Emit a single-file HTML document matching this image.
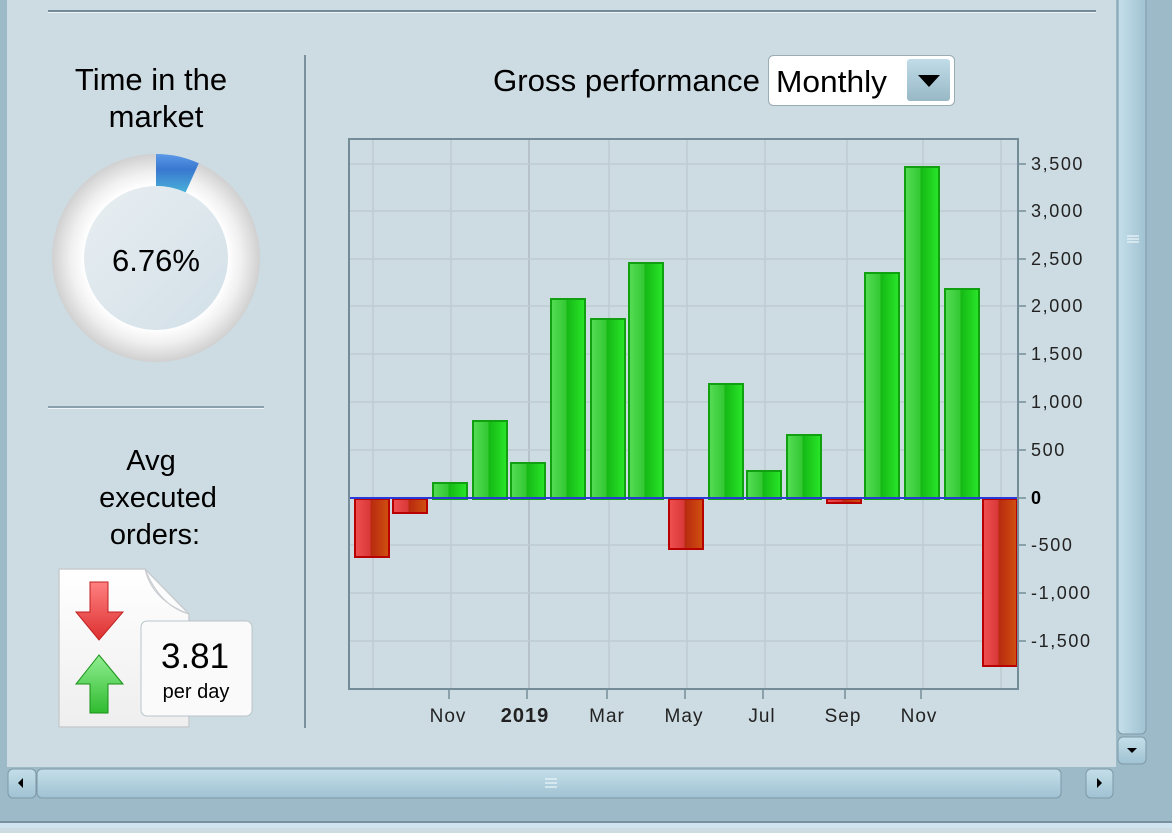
<!DOCTYPE html>
<html><head><meta charset="utf-8"><style>
body{margin:0;width:1172px;height:828px;overflow:hidden;background:#cddce3;font-family:"Liberation Sans",sans-serif}
</style></head><body>
<svg width="1172" height="828" viewBox="0 0 1172 828" xmlns="http://www.w3.org/2000/svg" font-family="Liberation Sans, sans-serif">
<defs>
<linearGradient id="g" x1="0" x2="1"><stop offset="0" stop-color="#55dd55"/><stop offset="0.45" stop-color="#33c833"/><stop offset="0.46" stop-color="#14b814"/><stop offset="1" stop-color="#2ae62a"/></linearGradient>
<linearGradient id="r" x1="0" x2="1"><stop offset="0" stop-color="#f05050"/><stop offset="0.45" stop-color="#d83838"/><stop offset="0.46" stop-color="#b82a10"/><stop offset="1" stop-color="#d05010"/></linearGradient>
<radialGradient id="ring" cx="0.5" cy="0.5" r="0.5"><stop offset="0.69" stop-color="#ffffff"/><stop offset="0.82" stop-color="#f0f0f0"/><stop offset="1" stop-color="#d0d0d0"/></radialGradient>
<linearGradient id="inner" x1="0" y1="0" x2="1" y2="1"><stop offset="0" stop-color="#e8eef2"/><stop offset="1" stop-color="#d2e0e7"/></linearGradient>
<linearGradient id="blue" x1="0" y1="0" x2="0" y2="1"><stop offset="0" stop-color="#5a9ae8"/><stop offset="0.4" stop-color="#3a78d0"/><stop offset="1" stop-color="#48b0d8"/></linearGradient>
<linearGradient id="sb" x1="0" y1="0" x2="0" y2="1"><stop offset="0" stop-color="#c4dfea"/><stop offset="1" stop-color="#a0c2d2"/></linearGradient>
<linearGradient id="sbv" x1="0" y1="0" x2="1" y2="0"><stop offset="0" stop-color="#c4dfea"/><stop offset="1" stop-color="#a0c2d2"/></linearGradient>
<linearGradient id="dd" x1="0" y1="0" x2="0" y2="1"><stop offset="0" stop-color="#c0dce8"/><stop offset="1" stop-color="#98b8c6"/></linearGradient>
<linearGradient id="doc" x1="0" y1="0" x2="0" y2="1"><stop offset="0" stop-color="#ffffff"/><stop offset="1" stop-color="#eeeeee"/></linearGradient>
<linearGradient id="ra" x1="0" y1="0" x2="0" y2="1"><stop offset="0" stop-color="#ff8080"/><stop offset="1" stop-color="#dd3030"/></linearGradient>
<linearGradient id="ga" x1="0" y1="0" x2="0" y2="1"><stop offset="0" stop-color="#90ee90"/><stop offset="1" stop-color="#30bb30"/></linearGradient>
</defs>
<!-- frame -->
<rect x="0" y="0" width="7" height="800" fill="#9dbac8"/>
<rect x="1116" y="0" width="56" height="800" fill="#9dbac8"/>
<rect x="0" y="800" width="1172" height="28" fill="#9dbac8"/>
<rect x="0" y="821" width="1172" height="2" fill="#7890a0"/>
<rect x="0" y="823" width="1172" height="5" fill="#cfe4ee"/>
<rect x="48" y="10" width="1048" height="2" fill="#748c98"/>
<rect x="48" y="12" width="1048" height="1" fill="#eef4f8"/>
<!-- left panel -->
<text x="151" y="90" font-size="31" text-anchor="middle">Time in the</text>
<text x="156" y="127" font-size="31" text-anchor="middle">market</text>
<circle cx="156" cy="258" r="104" fill="url(#ring)"/>
<path d="M156 154 A104 104 0 0 1 198.8 163.2 L185.6 192.4 A72 72 0 0 0 156 186 Z" fill="url(#blue)"/>
<circle cx="156" cy="258" r="72" fill="url(#inner)"/>
<text x="156" y="271" font-size="31" text-anchor="middle">6.76%</text>
<rect x="48" y="406" width="216" height="2" fill="#8aa0ac"/>
<rect x="48" y="408" width="216" height="1" fill="#eef4f8"/>
<text x="151" y="470" font-size="29" text-anchor="middle">Avg</text>
<text x="158" y="507" font-size="29" text-anchor="middle">executed</text>
<text x="155" y="544" font-size="29" text-anchor="middle">orders:</text>
<path d="M59 569 H145 L189 614 V727 H59 Z" fill="url(#doc)" stroke="#c8ccd0" stroke-width="1.5"/>
<path d="M145 569 Q152 600 189 614 Q160 606 145 569 Z" fill="#e4e8ea" stroke="#c8ccd0"/>
<path d="M90 582 H108 V612 H123 L99 640 L76 612 H90 Z" fill="url(#ra)" stroke="#c02020" stroke-width="1"/>
<path d="M99 655 L123 684 H108 V713 H90 V684 H76 Z" fill="url(#ga)" stroke="#189018" stroke-width="1"/>
<rect x="141" y="621" width="111" height="95" rx="6" fill="#fafafa" stroke="#b8c4ca"/>
<text x="195" y="668" font-size="35" text-anchor="middle">3.81</text>
<text x="196" y="698" font-size="20" text-anchor="middle">per day</text>
<rect x="304" y="55" width="2" height="673" fill="#7a909c"/>
<!-- header -->
<text x="493" y="91" font-size="31" textLength="267" lengthAdjust="spacingAndGlyphs">Gross performance</text>
<rect x="768.5" y="55.5" width="186" height="50" rx="5" fill="#fff" stroke="#9aacb4"/>
<text x="776" y="92" font-size="31" textLength="111" lengthAdjust="spacingAndGlyphs">Monthly</text>
<rect x="907" y="59" width="43" height="42" rx="3" fill="url(#dd)"/>
<path d="M918 75 H940 L929 87 Z" fill="#000"/>
<!-- plot -->
<g stroke="#bfcbd1" stroke-width="1.5">
<line x1="373" y1="139" x2="373" y2="689"/><line x1="451" y1="139" x2="451" y2="689"/>
<line x1="529" y1="139" x2="529" y2="689" stroke="#b6c2c8" stroke-width="2"/><line x1="609" y1="139" x2="609" y2="689"/>
<line x1="687" y1="139" x2="687" y2="689"/><line x1="765" y1="139" x2="765" y2="689"/>
<line x1="847" y1="139" x2="847" y2="689"/><line x1="923" y1="139" x2="923" y2="689"/>
<line x1="1001" y1="139" x2="1001" y2="689"/>
<line x1="350" y1="164" x2="1018" y2="164"/><line x1="350" y1="211" x2="1018" y2="211"/>
<line x1="350" y1="259" x2="1018" y2="259"/><line x1="350" y1="306" x2="1018" y2="306"/>
<line x1="350" y1="354" x2="1018" y2="354"/><line x1="350" y1="402" x2="1018" y2="402"/>
<line x1="350" y1="450" x2="1018" y2="450"/><line x1="350" y1="545" x2="1018" y2="545"/>
<line x1="350" y1="593" x2="1018" y2="593"/><line x1="350" y1="641" x2="1018" y2="641"/>
</g>
<g stroke-width="2">
<rect x="355" y="499" width="34" height="58" fill="url(#r)" stroke="#b80000"/>
<rect x="393" y="499" width="34" height="14" fill="url(#r)" stroke="#b80000"/>
<rect x="433" y="483" width="34" height="16" fill="url(#g)" stroke="#10a010"/>
<rect x="473" y="421" width="34" height="78" fill="url(#g)" stroke="#10a010"/>
<rect x="511" y="463" width="34" height="36" fill="url(#g)" stroke="#10a010"/>
<rect x="551" y="299" width="34" height="200" fill="url(#g)" stroke="#10a010"/>
<rect x="591" y="319" width="34" height="180" fill="url(#g)" stroke="#10a010"/>
<rect x="629" y="263" width="34" height="236" fill="url(#g)" stroke="#10a010"/>
<rect x="669" y="499" width="34" height="50" fill="url(#r)" stroke="#b80000"/>
<rect x="709" y="384" width="34" height="115" fill="url(#g)" stroke="#10a010"/>
<rect x="747" y="471" width="34" height="28" fill="url(#g)" stroke="#10a010"/>
<rect x="787" y="435" width="34" height="64" fill="url(#g)" stroke="#10a010"/>
<rect x="827" y="499" width="34" height="4" fill="url(#r)" stroke="#b80000"/>
<rect x="865" y="273" width="34" height="226" fill="url(#g)" stroke="#10a010"/>
<rect x="905" y="167" width="34" height="332" fill="url(#g)" stroke="#10a010"/>
<rect x="945" y="289" width="34" height="210" fill="url(#g)" stroke="#10a010"/>
<rect x="983" y="499" width="34" height="167" fill="url(#r)" stroke="#b80000"/>
</g>
<line x1="350" y1="498" x2="1018" y2="498" stroke="#2a3ad8" stroke-width="2"/>
<rect x="349" y="139" width="669" height="550" fill="none" stroke="#748c98" stroke-width="2"/>
<g stroke="#748c98" stroke-width="1.5">
<line x1="1018" y1="164" x2="1026" y2="164"/><line x1="1018" y1="211" x2="1026" y2="211"/>
<line x1="1018" y1="259" x2="1026" y2="259"/><line x1="1018" y1="306" x2="1026" y2="306"/>
<line x1="1018" y1="354" x2="1026" y2="354"/><line x1="1018" y1="402" x2="1026" y2="402"/>
<line x1="1018" y1="450" x2="1026" y2="450"/><line x1="1018" y1="498" x2="1026" y2="498"/>
<line x1="1018" y1="545" x2="1026" y2="545"/><line x1="1018" y1="593" x2="1026" y2="593"/>
<line x1="1018" y1="641" x2="1026" y2="641"/>
<line x1="449" y1="690" x2="449" y2="699"/><line x1="527" y1="690" x2="527" y2="699"/>
<line x1="607" y1="690" x2="607" y2="699"/><line x1="685" y1="690" x2="685" y2="699"/>
<line x1="763" y1="690" x2="763" y2="699"/><line x1="845" y1="690" x2="845" y2="699"/>
<line x1="921" y1="690" x2="921" y2="699"/>
</g>
<g font-size="18" fill="#222" letter-spacing="1.6">
<text x="1031" y="170">3,500</text><text x="1031" y="217">3,000</text><text x="1031" y="265">2,500</text>
<text x="1031" y="312">2,000</text><text x="1031" y="360">1,500</text><text x="1031" y="408">1,000</text>
<text x="1031" y="456">500</text><text x="1031" y="504" font-weight="bold" fill="#000">0</text>
<text x="1031" y="551">-500</text><text x="1031" y="599">-1,000</text><text x="1031" y="647">-1,500</text>
</g>
<g font-size="19" fill="#222" text-anchor="middle" letter-spacing="1">
<text x="448" y="722">Nov</text><text x="525" y="722" font-weight="bold" font-size="20">2019</text>
<text x="607" y="722">Mar</text><text x="684" y="722">May</text><text x="762" y="722">Jul</text>
<text x="843" y="722">Sep</text><text x="919" y="722">Nov</text>
</g>
<!-- vertical scrollbar -->
<rect x="1118" y="-4" width="28" height="738" rx="5" fill="url(#sbv)" stroke="#7e98a6"/>
<g stroke="#eef6fa" stroke-width="1.2"><line x1="1127" y1="236" x2="1139" y2="236"/><line x1="1127" y1="239" x2="1139" y2="239"/><line x1="1127" y1="242" x2="1139" y2="242"/></g>
<rect x="1118" y="737" width="28" height="27" rx="5" fill="url(#sb)" stroke="#7e98a6"/>
<path d="M1127 748 H1137 L1132 753 Z" fill="#000"/>
<!-- horizontal scrollbar -->
<rect x="6" y="767" width="1110" height="33" fill="#9dbac8"/>
<rect x="8" y="769" width="28" height="29" rx="5" fill="url(#sb)" stroke="#7e98a6"/>
<path d="M23 778 V788 L18 783 Z" fill="#000"/>
<rect x="37" y="769" width="1024" height="29" rx="5" fill="url(#sb)" stroke="#7e98a6"/>
<g stroke="#eef6fa" stroke-width="1.2"><line x1="545" y1="779" x2="557" y2="779"/><line x1="545" y1="783" x2="557" y2="783"/><line x1="545" y1="787" x2="557" y2="787"/></g>
<rect x="1086" y="769" width="27" height="29" rx="5" fill="url(#sb)" stroke="#7e98a6"/>
<path d="M1097 778 V788 L1102 783 Z" fill="#000"/>
</svg>
</body></html>
